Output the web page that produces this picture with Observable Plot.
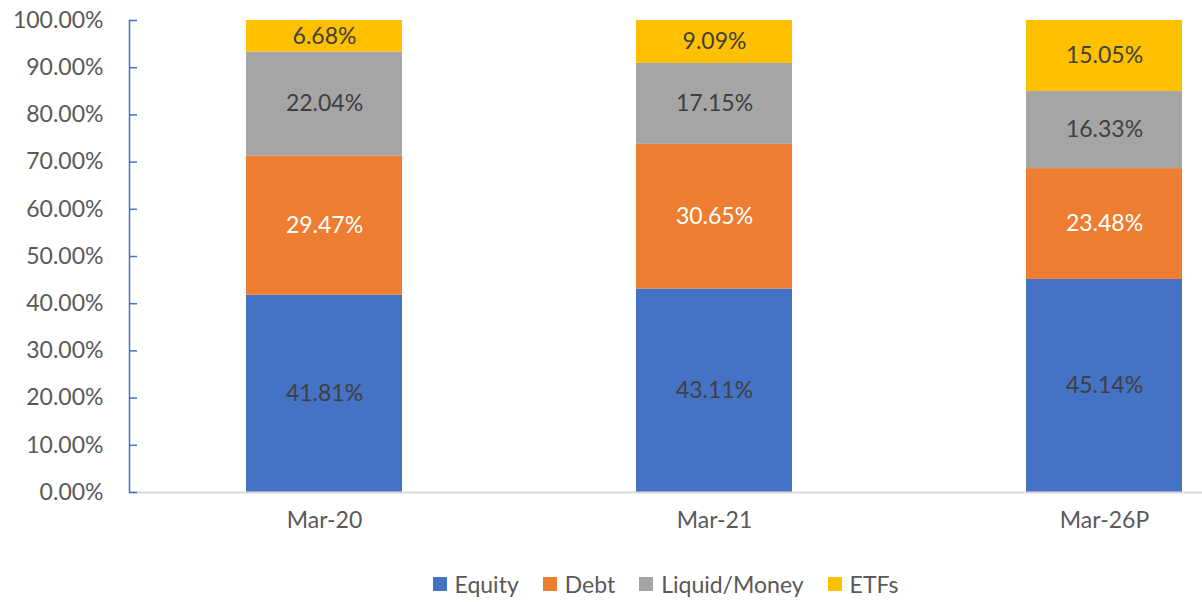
<!DOCTYPE html>
<html>
<head>
<meta charset="utf-8">
<script src="https://cdn.jsdelivr.net/npm/d3@7"></script>
<script src="https://cdn.jsdelivr.net/npm/@observablehq/plot@0.6"></script>
<style>
  body { margin: 0; background: #fff; font-family: Lato, "Open Sans", sans-serif; }
  #legend { display: flex; justify-content: center; align-items: center; padding-left: 129px; padding-top: 10px; height: 36px; font-size: 23px; color: #595959; }
  .item { display: flex; align-items: center; margin: 0 12px; }
  .sw { width: 14px; height: 14px; margin-right: 8px; }
</style>
</head>
<body>
<div id="chart"></div>
<div id="legend"></div>
<script>
const categories = ["Mar-20", "Mar-21", "Mar-26P"];
const seriesNames = ["Equity", "Debt", "Liquid/Money", "ETFs"];
const equity = [41.81, 43.11, 45.14];
const debt = [29.47, 30.65, 23.48];
const liquid = [22.04, 17.15, 16.33];
const etfs = [6.68, 9.09, 15.05];
const colors = ["#4472C4", "#ED7D31", "#A5A5A5", "#FFC000"];
const labelColors = ["#404040", "#ffffff", "#404040", "#404040"];
const yTicks = [0, 10, 20, 30, 40, 50, 60, 70, 80, 90, 100];

const seriesValues = [equity, debt, liquid, etfs];
const data = [];
seriesNames.forEach((s, si) => {
  categories.forEach((c, ci) => {
    data.push({cat: c, series: s, value: seriesValues[si][ci], labelColor: labelColors[si]});
  });
});

const chart = Plot.plot({
  width: 1202,
  height: 556,
  marginTop: 20,
  marginBottom: 64,
  marginLeft: 129,
  marginRight: 0,
  style: {fontFamily: "Lato, 'Open Sans', sans-serif", fontSize: "23px", color: "#595959", background: "#fff"},
  x: {domain: categories, range: [129, 1299], paddingInner: 0.6, paddingOuter: 0.3, label: null},
  y: {domain: [0, 100], label: null},
  color: {domain: seriesNames, range: colors},
  marks: [
    Plot.barY(data, {x: "cat", y: "value", fill: "series", z: "series"}),
    Plot.ruleY([0], {stroke: "#d9d9d9", strokeWidth: 2}),
    Plot.frame({anchor: "left", stroke: "#4472C4", strokeWidth: 1.5}),
    Plot.axisY({ticks: yTicks, tickSize: 0, tickPadding: 26, tickFormat: d => d.toFixed(2) + "%", fill: "#595959", fontSize: 23}),
    Plot.axisY({ticks: yTicks, tickSize: 8, dx: 8, tickFormat: () => "", stroke: "#4472C4", strokeWidth: 1.5}),
    Plot.axisX({tickSize: 0, tickPadding: 19, fill: "#595959", fontSize: 23}),
    Plot.text(data, Plot.stackY({x: "cat", y: "value", z: "series", text: d => d.value.toFixed(2) + "%", fill: "labelColor", fontSize: 23}))
  ]
});
document.getElementById("chart").appendChild(chart);

const legend = document.getElementById("legend");
seriesNames.forEach((s, i) => {
  const it = document.createElement("div");
  it.className = "item";
  it.innerHTML = `<div class="sw" style="background:${colors[i]}"></div><span>${s}</span>`;
  legend.appendChild(it);
});
</script>
</body>
</html>
